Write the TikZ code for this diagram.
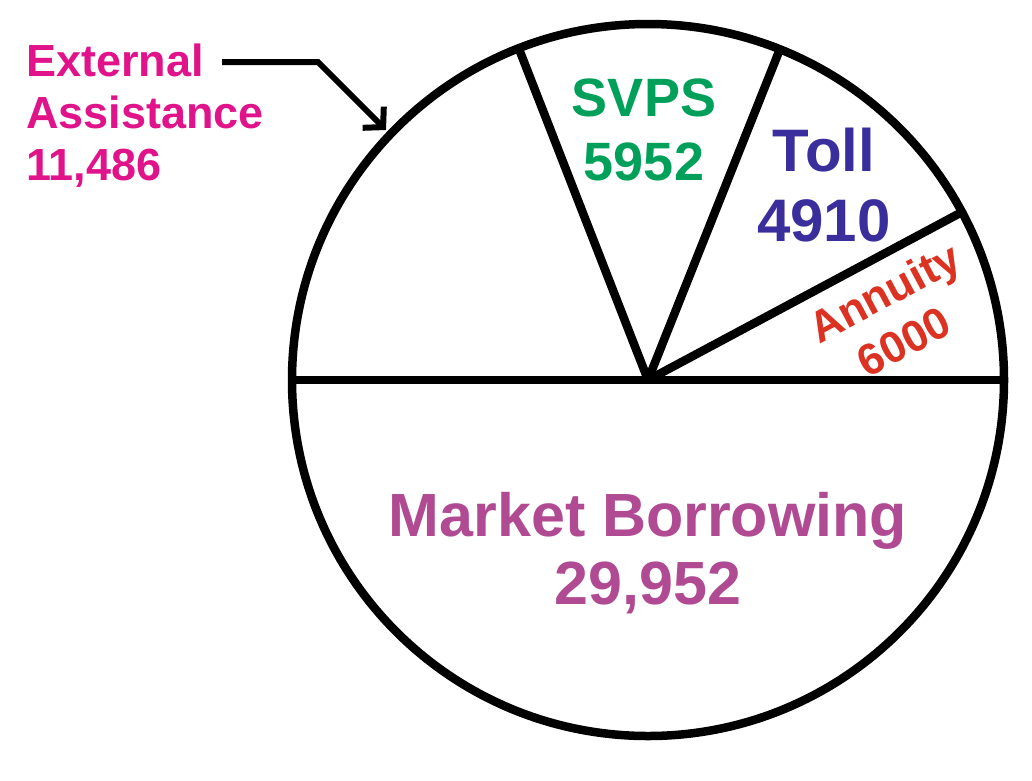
\documentclass[tikz,border=0pt]{standalone}
\usepackage{fontspec}
\setmainfont{Liberation Sans}
\usetikzlibrary{arrows.meta}
\definecolor{cext}{HTML}{E0138A}
\definecolor{csvps}{HTML}{00A05A}
\definecolor{ctoll}{HTML}{3A2E9C}
\definecolor{cann}{HTML}{DC3222}
\definecolor{cmkt}{HTML}{B04A92}
\begin{document}
\begin{tikzpicture}[x=1pt,y=-1pt,
  edge/.style={line width=8.5pt},
  lab/.style={font=\bfseries, inner sep=0pt, align=center}]
\useasboundingbox (0,0) rectangle (1032,780);
\coordinate (c) at (648,380);
\draw[edge] (c) circle (356);
\draw[edge] (292,380) -- (1004,380);
\draw[edge] (c) -- (519,49);
\draw[edge] (c) -- (780,49);
\draw[edge] (c) -- (962,212);
\node[lab, text=cext, align=left, anchor=north west, font=\fontsize{45}{52}\selectfont\bfseries] (ext) at (26,44) {External\\Assistance\\11,486};
\coordinate (a1) at (222,62);
\coordinate (a2) at (318,62);
\coordinate (a3) at (386,130);
\draw[line width=6pt, -{Straight Barb[length=14pt,width=30pt,line width=6pt]}] (a1) -- (a2) -- (a3);
\node[lab, text=csvps, font=\fontsize{54}{64}\selectfont\bfseries] (svps) at (644,130) {SVPS\\5952};
\node[lab, text=ctoll, font=\fontsize{60}{70}\selectfont\bfseries] (toll) at (824,185) {Toll\\4910};
\node[lab, text=cann, rotate=28, font=\fontsize{44}{48}\selectfont\bfseries] (ann1) at (886,296) {Annuity};
\node[lab, text=cann, rotate=28, font=\fontsize{44}{48}\selectfont\bfseries] (ann2) at (904,342) {6000};
\node[lab, text=cmkt, font=\fontsize{61}{68}\selectfont\bfseries] (mkt) at (648,553) {Market Borrowing\\29,952};
\end{tikzpicture}
\end{document}
